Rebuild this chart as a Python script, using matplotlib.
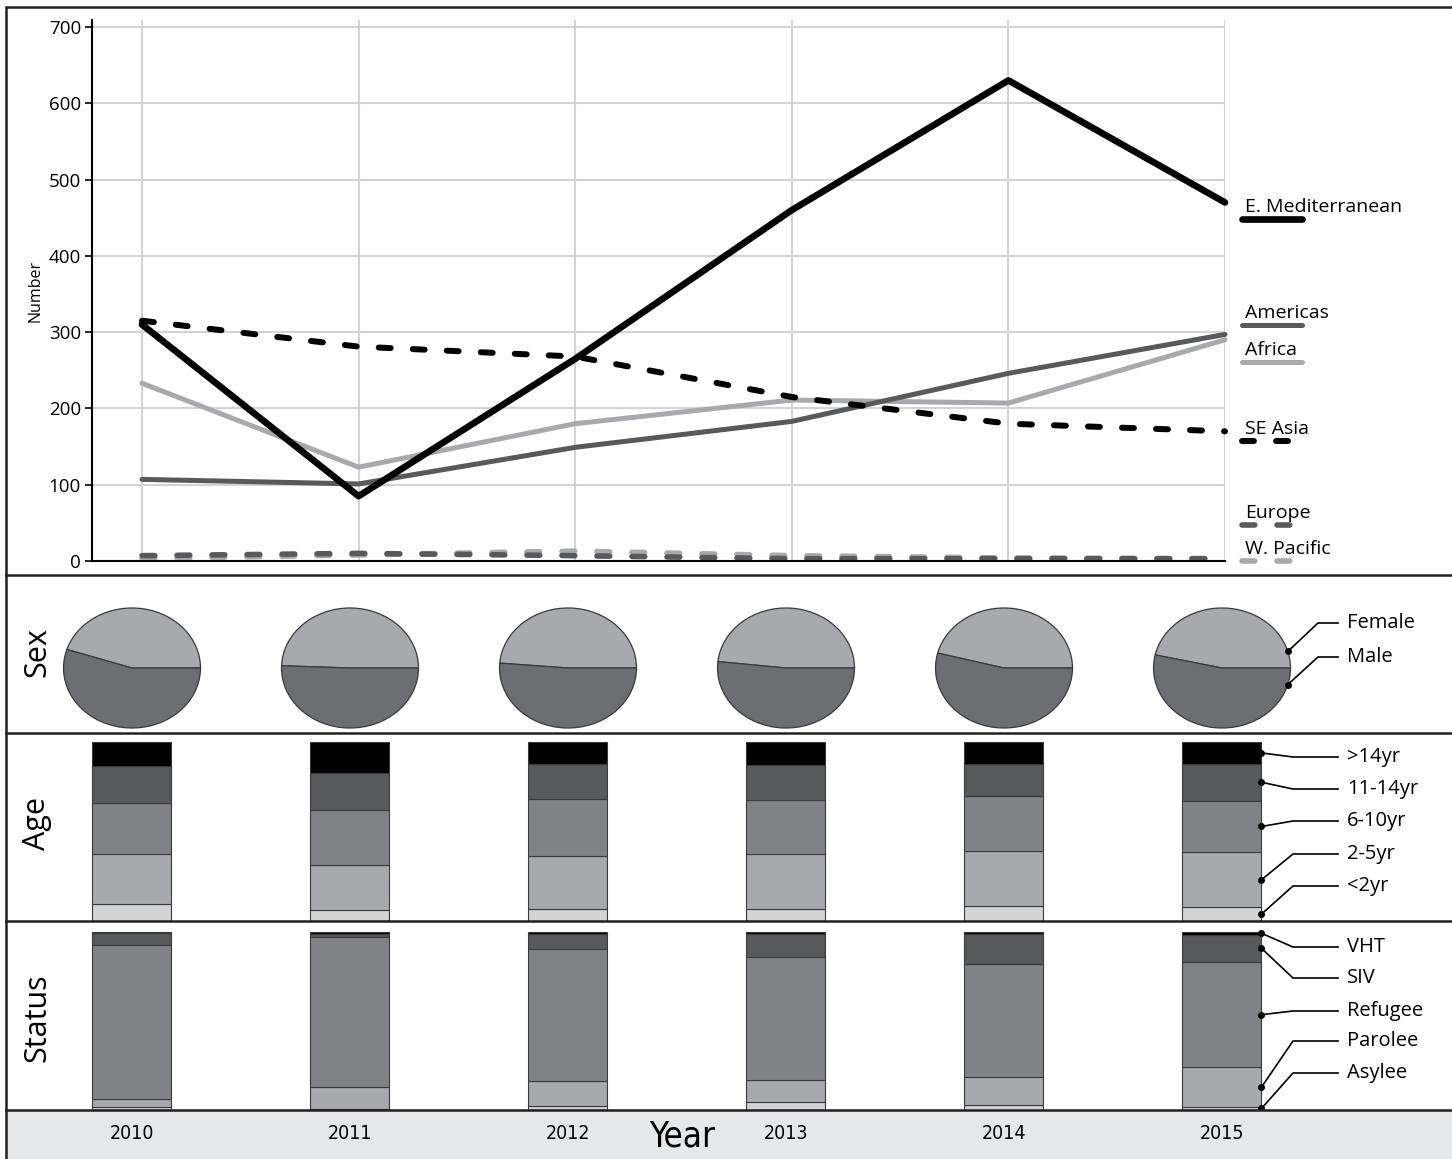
import numpy as np
import matplotlib.pyplot as plt
from matplotlib import font_manager
from matplotlib.lines import Line2D
from matplotlib.patches import Rectangle

plt.rcParams['font.family'] = ['Open Sans', 'DejaVu Sans']

# narrow face for the year strip, if one is around
installed = {f.name for f in font_manager.fontManager.ttflist}
NARROW = 'Liberation Sans Narrow' if 'Liberation Sans Narrow' in installed else 'DejaVu Sans'

W, H = 1452, 1159

years = [2010, 2011, 2012, 2013, 2014, 2015]

# cases by WHO region
e_mediterranean = [310, 85, 265, 460, 630, 470]
americas = [107, 101, 149, 183, 246, 297]
africa = [233, 123, 180, 211, 207, 290]
se_asia = [315, 281, 268, 215, 180, 170]
europe = [7, 10, 7, 3, 3, 3]
w_pacific = [3, 8, 13, 7, 4, 3]

# sex split, percent
female = [45.0, 49.4, 48.7, 48.3, 46.0, 46.5]
male = [55.0, 50.6, 51.3, 51.7, 54.0, 53.5]

# age groups, percent (bottom to top)
age_labels = ['<2yr', '2-5yr', '6-10yr', '11-14yr', '>14yr']
age_lt2 = [9.4, 6.0, 6.9, 6.7, 8.4, 7.7]
age_2_5 = [27.8, 25.2, 29.5, 31.0, 30.7, 30.7]
age_6_10 = [28.8, 30.7, 32.0, 30.1, 30.7, 28.8]
age_11_14 = [20.5, 20.9, 19.4, 19.4, 18.1, 20.6]
age_gt14 = [13.5, 17.2, 12.2, 12.8, 12.1, 12.2]

# immigration status, percent (bottom to top)
status_labels = ['Asylee', 'Parolee', 'Refugee', 'SIV', 'VHT']
asylee = [1.5, 0.4, 2.1, 4.3, 3.0, 1.7]
parolee = [4.9, 12.8, 14.1, 12.7, 15.4, 22.3]
refugee = [86.1, 83.8, 74.1, 69.0, 63.6, 59.1]
siv = [6.9, 2.1, 8.8, 12.7, 16.7, 15.4]
vht = [0.6, 0.9, 0.9, 1.3, 1.3, 1.5]

BLACK = '#000000'
DARK = '#58595b'
MID = '#808285'
LIGHT = '#a7a9ac'
PALE = '#d1d3d4'
MALE_C = '#6d6e71'
EDGE = '#3a3a3c'


def box(x0, y0, x1, y1):
    # reference pixels (top-left origin) -> figure fraction rect
    return [x0 / W, 1 - y1 / H, (x1 - x0) / W, (y1 - y0) / H]


def to_data(ax, px, py):
    return ax.transData.inverted().transform((px, H - py))


fig = plt.figure(figsize=(W / 100, H / 100), dpi=100)

# ---- line chart ----
ax = fig.add_axes(box(92, 20, 1225, 561))
ax.set_xlim(2010 - 50 / 216.6, 2015)
ax.set_ylim(0, 700 * 541 / 534)
ax.set_xticks(years)
ax.set_yticks(range(0, 701, 100))
ax.grid(color=PALE, lw=1.5)
ax.set_axisbelow(True)
for s in ['top', 'right']:
    ax.spines[s].set_visible(False)
for s in ['left', 'bottom']:
    ax.spines[s].set_linewidth(1.5)
ax.tick_params(axis='x', length=0, labelbottom=False)
ax.tick_params(axis='y', length=5, width=1.2, labelsize=13.5, pad=3)
ax.set_ylabel('Number', fontsize=11.5, labelpad=4)

series = [
    ('W. Pacific', w_pacific, LIGHT, 4.0, (2.3, 4.0), 0),
    ('Europe', europe, DARK, 4.0, (2.3, 4.0), 47),
    ('Africa', africa, LIGHT, 3.6, None, 261),
    ('Americas', americas, DARK, 3.6, None, 309),
    ('SE Asia', se_asia, BLACK, 4.3, (2.0, 3.7), 157),
    ('E. Mediterranean', e_mediterranean, BLACK, 4.8, None, 448),
]
lx0 = 2015 + (1242 - 1225) / 216.6
lx1 = 2015 + (1302 - 1225) / 216.6
for name, vals, col, lw, dash, ly in series:
    kw = dict(color=col, lw=lw, clip_on=False, solid_capstyle='round', dash_capstyle='round')
    if dash:
        kw['dashes'] = dash
    ax.plot(years, vals, **kw)
    ax.plot([lx0, lx1], [ly, ly], **kw)
    ax.annotate(name, (lx0 + 0.014, ly), xytext=(0, 5), textcoords='offset points',
                fontsize=14, va='baseline', ha='left', annotation_clip=False)

# shared x mapping for lower panels: 2010 at 132 px, 218 px per year
xl = (2010 - 132 / 218, 2010 + (W - 132) / 218)
bar_w = 79 / 218


def callout(a, dot, elbow_x, label_y, label):
    ex, ey = to_data(a, elbow_x, label_y)
    hx, _ = to_data(a, 1338, label_y)
    tx, _ = to_data(a, 1347, label_y)
    a.plot([dot[0], ex, hx], [dot[1], ey, ey], color=BLACK, lw=1.2, clip_on=False)
    a.plot(dot[0], dot[1], 'o', color=BLACK, ms=4, clip_on=False)
    a.text(tx, ey, label, va='center', ha='left', fontsize=14.5)


def clean(a):
    a.set_xticks([])
    a.set_yticks([])
    for s in a.spines.values():
        s.set_visible(False)


# ---- sex pies ----
ax_sex = fig.add_axes(box(0, 575, W, 733))
r = 68.5 / 218
for yr, f, m in zip(years, female, male):
    ax_sex.pie([f, m], colors=[LIGHT, MALE_C], startangle=0, counterclock=True,
               center=(yr, 0), radius=r, frame=True,
               wedgeprops=dict(edgecolor=EDGE, linewidth=0.9))
ax_sex.set_aspect('auto')
ax_sex.set_xlim(*xl)
ax_sex.set_ylim(-65 / 191, 93 / 191)
clean(ax_sex)
ang = np.radians(16)
callout(ax_sex, (years[-1] + r * np.cos(ang), r * np.sin(ang)), 1318, 623, 'Female')
callout(ax_sex, (years[-1] + r * np.cos(ang), -r * np.sin(ang)), 1318, 657, 'Male')

# ---- age bars ----
ax_age = fig.add_axes(box(0, 733, W, 921))
ax_age.set_xlim(*xl)
ax_age.set_ylim(0, 100 * 188 / 179)
clean(ax_age)
age_series = [age_lt2, age_2_5, age_6_10, age_11_14, age_gt14]
age_colors = [PALE, LIGHT, MID, DARK, BLACK]
bottom = np.zeros(len(years))
mids = []
for vals, col in zip(age_series, age_colors):
    vals = np.array(vals)
    ax_age.bar(years, vals, bottom=bottom, width=bar_w, color=col, edgecolor=EDGE, linewidth=0.8)
    mids.append(bottom[-1] + vals[-1] / 2)
    bottom = bottom + vals
age_label_y = [886, 854, 821, 789, 757]
for lab, m, ly in zip(age_labels, mids, age_label_y):
    callout(ax_age, (years[-1] + bar_w / 2, m), 1293, ly, lab)

# ---- status bars ----
ax_st = fig.add_axes(box(0, 921, W, 1110))
ax_st.set_xlim(*xl)
ax_st.set_ylim(0, 100 * 189 / 178)
clean(ax_st)
status_series = [asylee, parolee, refugee, siv, vht]
status_colors = [PALE, LIGHT, MID, DARK, BLACK]
bottom = np.zeros(len(years))
mids = []
for vals, col in zip(status_series, status_colors):
    vals = np.array(vals)
    ax_st.bar(years, vals, bottom=bottom, width=bar_w, color=col, edgecolor=EDGE, linewidth=0.8)
    mids.append(bottom[-1] + vals[-1] / 2)
    bottom = bottom + vals
status_label_y = [1073, 1041, 1011, 978, 947]
for lab, m, ly in zip(status_labels, mids, status_label_y):
    callout(ax_st, (years[-1] + bar_w / 2, m), 1293, ly, lab)

# ---- year band ----
ax_yr = fig.add_axes(box(7, 1110, W, H), facecolor='#e6e7e8')
ax_yr.set_xlim(2010 + (7 - 132) / 218, xl[1])
ax_yr.set_ylim(0, 1)
clean(ax_yr)
for yr in years:
    ax_yr.text(yr, 0.52, str(yr), ha='center', va='center', fontsize=14,
               family=NARROW, fontstretch='condensed')
ax_yr.text(2010 + (682 - 132) / 218, 0.45, 'Year', ha='center', va='center', fontsize=25,
           family=NARROW, fontstretch='condensed')

# panel titles
for txt, y in [('Sex', 652), ('Age', 823), ('Status', 1018)]:
    fig.text(37 / W, 1 - y / H, txt, rotation=90, ha='center', va='center', fontsize=22)

# separators and outer frame
for y in [575, 733, 921, 1110]:
    fig.add_artist(Line2D([6 / W, 1], [1 - y / H] * 2, transform=fig.transFigure,
                          color='#231f20', lw=1.8))
fig.add_artist(Rectangle((6 / W, -0.02), 1.0, 1 - 7 / H + 0.02, transform=fig.transFigure,
                         fill=False, edgecolor='#231f20', lw=1.8))

fig.savefig('out.png', dpi=100)
